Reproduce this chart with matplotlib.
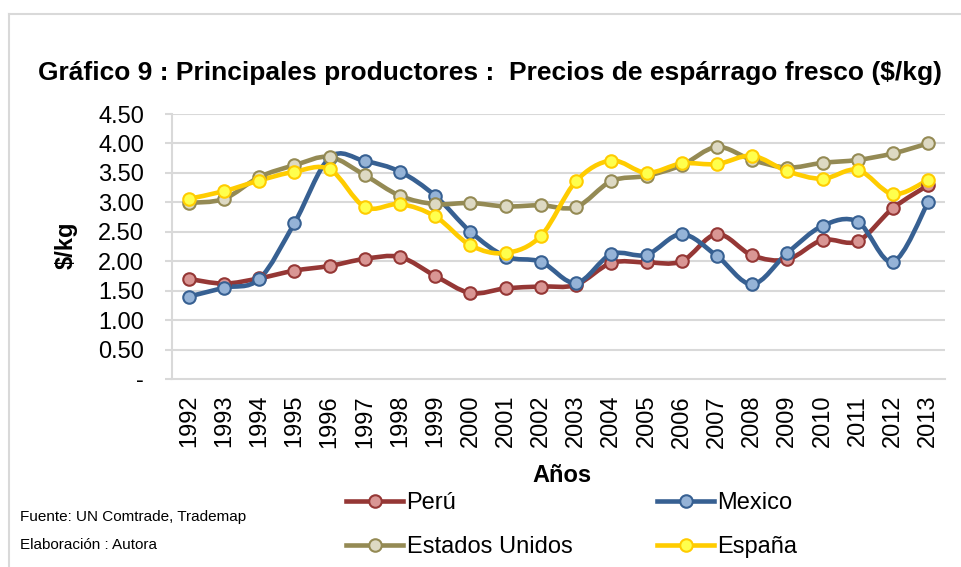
import numpy as np
import matplotlib.pyplot as plt
from matplotlib.path import Path
from matplotlib.patches import PathPatch
from matplotlib.lines import Line2D

plt.rcParams['font.family'] = ['Liberation Sans', 'DejaVu Sans']

# --------------------------
# DATA ($/kg)
# --------------------------
years = list(range(1992, 2014))

peru = [1.70, 1.62, 1.71, 1.84, 1.92, 2.04, 2.07, 1.75, 1.46, 1.54, 1.57,
        1.60, 1.97, 1.98, 2.00, 2.46, 2.10, 2.03, 2.36, 2.34, 2.90, 3.29]
mexico = [1.40, 1.55, 1.70, 2.65, 3.76, 3.70, 3.52, 3.11, 2.50, 2.08, 1.99,
          1.63, 2.12, 2.11, 2.46, 2.09, 1.61, 2.14, 2.60, 2.67, 1.99, 3.00]
usa = [2.99, 3.06, 3.43, 3.63, 3.77, 3.46, 3.11, 2.97, 2.99, 2.93, 2.95,
       2.92, 3.36, 3.45, 3.63, 3.94, 3.72, 3.59, 3.67, 3.72, 3.83, 4.00]
espana = [3.06, 3.19, 3.37, 3.52, 3.56, 2.92, 2.97, 2.76, 2.27, 2.14, 2.43,
          3.36, 3.71, 3.50, 3.66, 3.65, 3.79, 3.53, 3.40, 3.55, 3.14, 3.38]

series_names = ['Perú', 'Mexico', 'Estados Unidos', 'España']
series_vals = [peru, mexico, usa, espana]
line_colors = ['#953735', '#376092', '#948A54', '#FFCC00']
face_colors = ['#D99694', '#95B3D7', '#DDD9C3', '#FFFF4D']

yticks = np.arange(0, 4.51, 0.5)
ytick_labels = ['-'] + ['%.2f' % v for v in yticks[1:]]


def smooth_path(xs, ys):
    # Excel-style smoothed line: cubic Bezier segments through every data point
    n = len(xs)
    verts = [(xs[0], ys[0])]
    codes = [Path.MOVETO]
    for i in range(n - 1):
        a = i - 1 if i > 0 else i
        d = i + 2 if i + 2 < n else i + 1
        c1 = (xs[i] + (xs[i + 1] - xs[a]) / 6, ys[i] + (ys[i + 1] - ys[a]) / 6)
        c2 = (xs[i + 1] - (xs[d] - xs[i]) / 6, ys[i + 1] - (ys[d] - ys[i]) / 6)
        verts += [c1, c2, (xs[i + 1], ys[i + 1])]
        codes += [Path.CURVE4] * 3
    return Path(verts, codes)


fig = plt.figure(figsize=(9.61, 5.67), dpi=100)
ax = fig.add_axes([172 / 961, 1 - 379 / 567, (945 - 172) / 961, (379 - 114) / 567])

grid_c = '#D9D9D9'
for yv in yticks[1:]:
    ax.axhline(yv, color=grid_c, lw=1.5, zorder=0)

handles = {}
for name, vals, lc, fc in zip(series_names, series_vals, line_colors, face_colors):
    p = PathPatch(smooth_path(years, vals), fill=False, edgecolor=lc, lw=3.3,
                  capstyle='round', joinstyle='round', zorder=2)
    ax.add_patch(p)
    ax.plot(years, vals, linestyle='none', marker='o', markersize=9,
            markerfacecolor=fc, markeredgecolor=lc, markeredgewidth=1.5, zorder=3)
    handles[name] = Line2D([], [], color=lc, lw=3.3, marker='o', markersize=9,
                           markerfacecolor=fc, markeredgecolor=lc, markeredgewidth=1.5)

ax.set_xlim(1991.52, 2013.48)
ax.set_ylim(0, 4.5)
ax.set_xticks(years)
ax.set_xticklabels([str(y) for y in years], rotation=90, fontsize=17)
ax.set_yticks(yticks)
ax.set_yticklabels(ytick_labels, fontsize=17)
ax.tick_params(axis='y', length=5, width=1.5, color=grid_c, pad=15)
ax.tick_params(axis='x', length=0, pad=11.5)

for s in ['top', 'right']:
    ax.spines[s].set_visible(False)
for s in ['left', 'bottom']:
    ax.spines[s].set_color(grid_c)
    ax.spines[s].set_linewidth(1.5)

fig.text(490 / 961, 1 - 73 / 567, 'Gráfico 9 : Principales productores :  Precios de espárrago fresco ($/kg)',
         ha='center', va='center', fontsize=19, fontweight='bold')
fig.text(66 / 961, 1 - 245 / 567, '$/kg', rotation=90, ha='center', va='center',
         fontsize=17, fontweight='bold')
fig.text(562 / 961, 1 - 475 / 567, 'Años', ha='center', va='center',
         fontsize=17, fontweight='bold')

# legend fills column-wise, so order gives rows Perú/Mexico and Estados Unidos/España
leg_order = ['Perú', 'Estados Unidos', 'Mexico', 'España']
fig.legend([handles[n] for n in leg_order], leg_order, loc='center',
           bbox_to_anchor=(572 / 961, 1 - 525 / 567),
           ncol=2, frameon=False, fontsize=17, handlelength=2.4, handletextpad=0.15,
           columnspacing=3.6, labelspacing=0.95)

src_font = ['DejaVu Sans Condensed', 'Liberation Sans', 'DejaVu Sans']
fig.text(20 / 961, 1 - 517 / 567, 'Fuente: UN Comtrade, Trademap', ha='left', va='center',
         fontsize=11, family=src_font)
fig.text(20 / 961, 1 - 545 / 567, 'Elaboración : Autora', ha='left', va='center',
         fontsize=11, family=src_font)

# chart area border (top and left edges visible)
fig.add_artist(Line2D([9 / 961, 9 / 961], [0, 1 - 14 / 567], color=grid_c, lw=1.5))
fig.add_artist(Line2D([9 / 961, 1], [1 - 14 / 567, 1 - 14 / 567], color=grid_c, lw=1.5))

fig.savefig('out.png', dpi=100)
